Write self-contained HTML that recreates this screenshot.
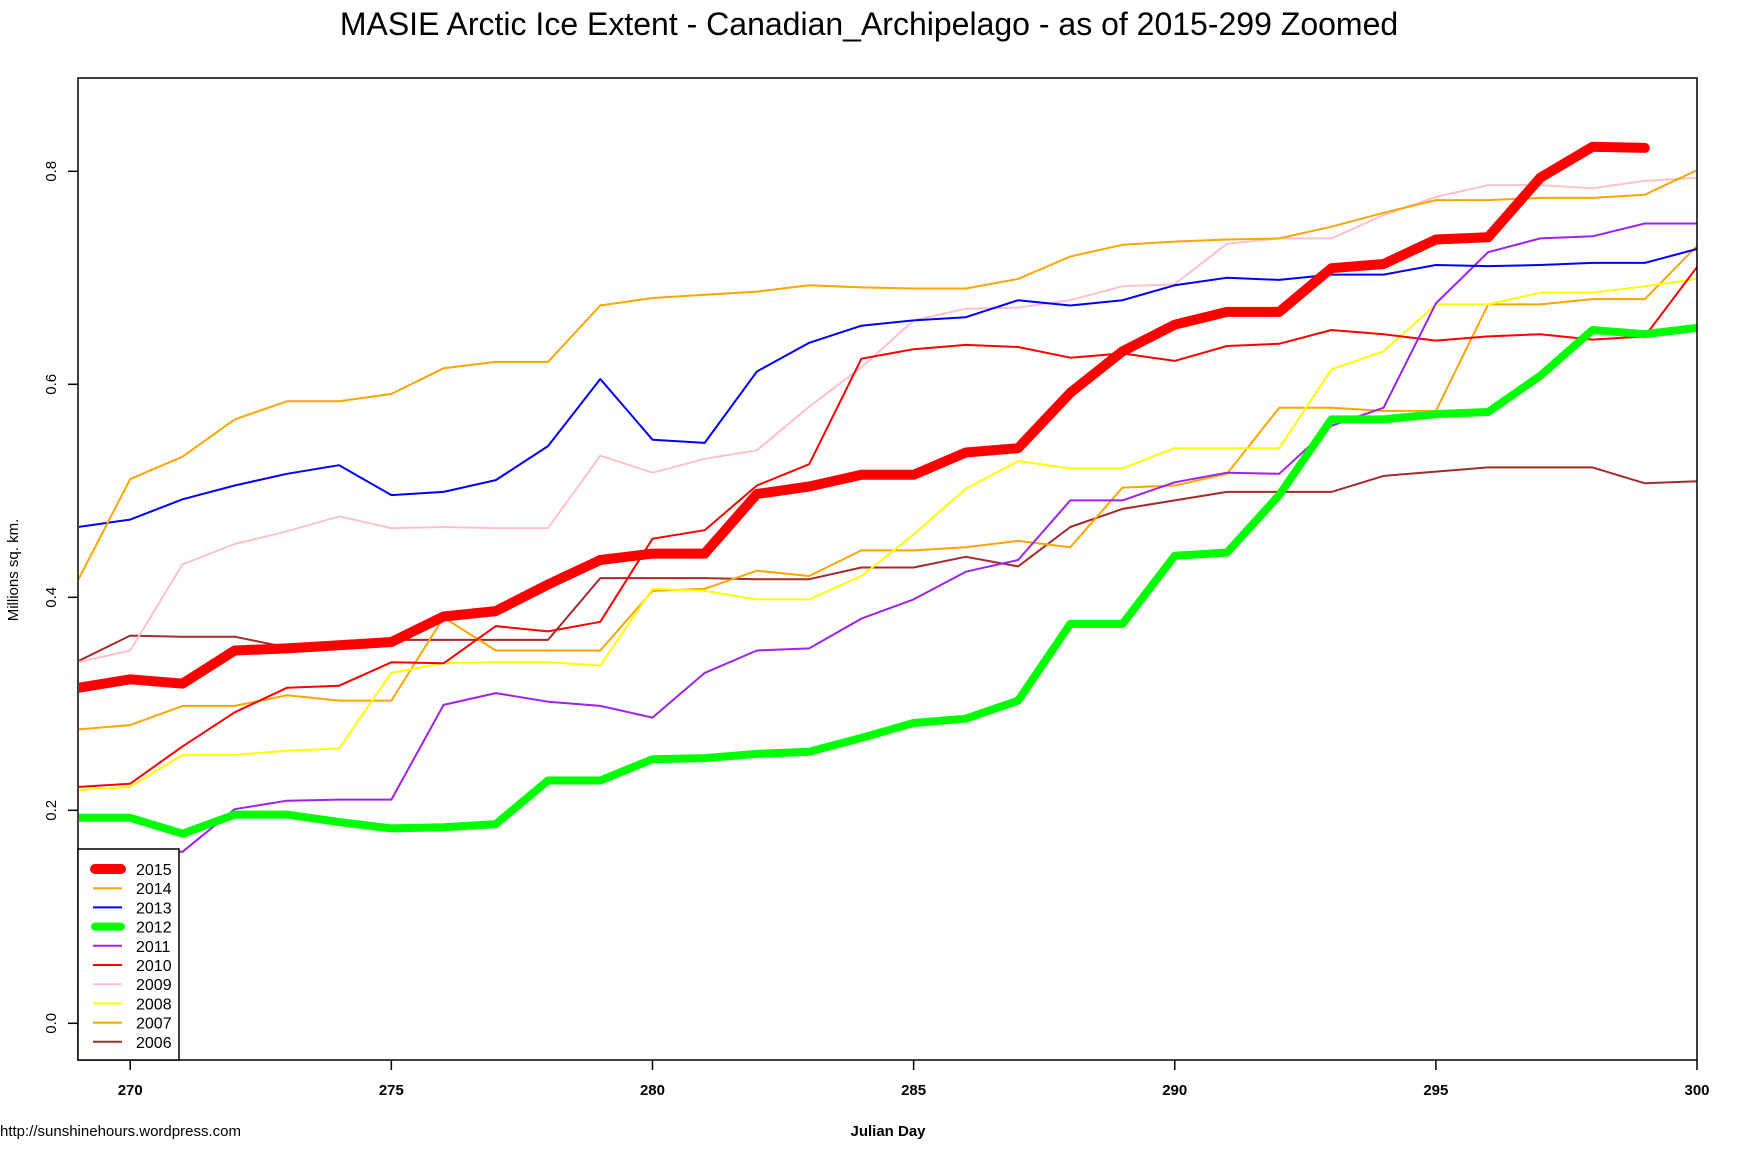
<!DOCTYPE html>
<html><head><meta charset="utf-8"><style>
html,body{margin:0;padding:0;background:#fff;}
svg{display:block;font-family:"Liberation Sans",Arial,sans-serif;}
</style></head><body>
<svg id="chart" width="1738" height="1158" xmlns="http://www.w3.org/2000/svg">
<defs><clipPath id="plotclip"><rect x="79" y="79" width="1618" height="981"/></clipPath></defs>
<rect width="1738" height="1158" fill="#fff"/>
<text x="869" y="35" text-anchor="middle" font-size="32">MASIE Arctic Ice Extent - Canadian_Archipelago - as of 2015-299 Zoomed</text>
<g id="series" clip-path="url(#plotclip)"></g>
<rect x="78" y="78" width="1619" height="982" fill="none" stroke="#000" stroke-width="1.5"/>
<g id="xaxis"></g>
<g id="yaxis"></g>
<text x="888" y="1136" text-anchor="middle" font-size="15" font-weight="bold">Julian Day</text>
<text transform="translate(18,570) rotate(-90)" text-anchor="middle" font-size="15">Millions sq. km.</text>
<text x="0" y="1136" font-size="15">http://sunshinehours.wordpress.com</text>
<g id="legend"></g>
</svg>
<script>
const days = [269,270,271,272,273,274,275,276,277,278,279,280,281,282,283,284,285,286,287,288,289,290,291,292,293,294,295,296,297,298,299,300];
const xTicks = [270,275,280,285,290,295,300];
const yTicks = [0.0,0.2,0.4,0.6,0.8];
const yTickLabels = ["0.0","0.2","0.4","0.6","0.8"];
const s2015 = [0.315,0.323,0.319,0.350,0.352,0.355,0.358,0.382,0.387,0.412,0.435,0.441,0.441,0.497,0.504,0.515,0.515,0.536,0.540,0.592,0.631,0.656,0.668,0.668,0.709,0.713,0.736,0.738,0.794,0.823,0.822];
const s2014 = [0.416,0.511,0.532,0.567,0.584,0.584,0.591,0.615,0.621,0.621,0.674,0.681,0.684,0.687,0.693,0.691,0.690,0.690,0.699,0.720,0.731,0.734,0.736,0.737,0.748,0.761,0.773,0.773,0.775,0.775,0.778,0.801];
const s2013 = [0.466,0.473,0.492,0.505,0.516,0.524,0.496,0.499,0.510,0.542,0.605,0.548,0.545,0.612,0.639,0.655,0.660,0.663,0.679,0.674,0.679,0.693,0.700,0.698,0.703,0.703,0.712,0.711,0.712,0.714,0.714,0.727];
const s2012 = [0.193,0.193,0.178,0.196,0.196,0.189,0.183,0.184,0.187,0.228,0.228,0.248,0.249,0.253,0.255,0.268,0.282,0.286,0.303,0.375,0.375,0.439,0.442,0.496,0.567,0.567,0.572,0.574,0.608,0.651,0.647,0.653];
const s2011 = [0.159,0.161,0.161,0.201,0.209,0.210,0.210,0.299,0.310,0.302,0.298,0.287,0.329,0.350,0.352,0.380,0.398,0.424,0.435,0.491,0.491,0.508,0.517,0.516,0.561,0.578,0.676,0.724,0.737,0.739,0.751,0.751];
const s2010 = [0.222,0.225,0.260,0.292,0.315,0.317,0.339,0.338,0.373,0.368,0.377,0.455,0.463,0.505,0.525,0.624,0.633,0.637,0.635,0.625,0.629,0.622,0.636,0.638,0.651,0.647,0.641,0.645,0.647,0.642,0.645,0.710];
const s2009 = [0.339,0.350,0.431,0.450,0.462,0.476,0.465,0.466,0.465,0.465,0.533,0.517,0.530,0.538,0.579,0.616,0.660,0.671,0.672,0.679,0.692,0.694,0.732,0.737,0.737,0.759,0.776,0.787,0.787,0.784,0.791,0.794];
const s2008 = [0.219,0.222,0.252,0.252,0.256,0.258,0.329,0.338,0.339,0.339,0.336,0.408,0.406,0.398,0.398,0.420,0.459,0.502,0.528,0.521,0.521,0.540,0.540,0.540,0.614,0.631,0.675,0.675,0.686,0.686,0.692,0.699];
const s2007 = [0.276,0.280,0.298,0.298,0.308,0.303,0.303,0.381,0.350,0.350,0.350,0.406,0.408,0.425,0.420,0.444,0.444,0.447,0.453,0.447,0.503,0.505,0.516,0.578,0.578,0.575,0.575,0.675,0.675,0.680,0.680,0.730];
const s2006 = [0.340,0.364,0.363,0.363,0.353,0.353,0.360,0.360,0.360,0.360,0.418,0.418,0.418,0.417,0.417,0.428,0.428,0.438,0.429,0.466,0.483,0.491,0.499,0.499,0.499,0.514,0.518,0.522,0.522,0.522,0.507,0.509];
const years = ["2015","2014","2013","2012","2011","2010","2009","2008","2007","2006"];
const seriesList = [s2015,s2014,s2013,s2012,s2011,s2010,s2009,s2008,s2007,s2006];
const colors = ["#FF0000","#FFA500","#0000FF","#00FF00","#A020F0","#FF0000","#FFC0CB","#FFFF00","#FFA500","#A52A2A"];
const widths = [10,2,2,8,2,2,2,2,2,2];

const NS = "http://www.w3.org/2000/svg";
function xs(d){ return 78 + (d-269)*(1619/31); }
function ys(v){ return 1023.3 - v*1065; }

const sg = document.getElementById('series');
for (let i = seriesList.length-1; i >= 0; i--) {
  const vals = seriesList[i];
  const pts = vals.map((v,j)=> xs(days[j]).toFixed(1)+","+ys(v).toFixed(1)).join(" ");
  const pl = document.createElementNS(NS,'polyline');
  pl.setAttribute('points', pts);
  pl.setAttribute('fill','none');
  pl.setAttribute('stroke', colors[i]);
  pl.setAttribute('stroke-width', widths[i]);
  pl.setAttribute('stroke-linejoin','round');
  pl.setAttribute('stroke-linecap', widths[i]>5 ? 'round' : 'butt');
  
  
  sg.appendChild(pl);
}

const xg = document.getElementById('xaxis');
xTicks.forEach(t=>{
  const x = xs(t);
  const ln = document.createElementNS(NS,'line');
  ln.setAttribute('x1',x); ln.setAttribute('x2',x);
  ln.setAttribute('y1',1060); ln.setAttribute('y2',1070);
  ln.setAttribute('stroke','#000'); ln.setAttribute('stroke-width','1.5');
  
  
  xg.appendChild(ln);
  const tx = document.createElementNS(NS,'text');
  tx.setAttribute('x',x); tx.setAttribute('y',1095);
  tx.setAttribute('text-anchor','middle'); tx.setAttribute('font-size','15'); tx.setAttribute('font-weight','bold');
  tx.textContent = t;
  
  
  xg.appendChild(tx);
});

const yg = document.getElementById('yaxis');
yTicks.forEach((t,i)=>{
  const y = ys(t);
  const ln = document.createElementNS(NS,'line');
  ln.setAttribute('x1',68); ln.setAttribute('x2',78);
  ln.setAttribute('y1',y); ln.setAttribute('y2',y);
  ln.setAttribute('stroke','#000'); ln.setAttribute('stroke-width','1.5');
  
  
  yg.appendChild(ln);
  const tx = document.createElementNS(NS,'text');
  tx.setAttribute('transform','translate(56,'+y+') rotate(-90)');
  tx.setAttribute('text-anchor','middle'); tx.setAttribute('font-size','15');
  tx.textContent = yTickLabels[i];
  
  
  yg.appendChild(tx);
});

const lg = document.getElementById('legend');
const box = document.createElementNS(NS,'rect');
box.setAttribute('x',78); box.setAttribute('y',849); box.setAttribute('width',101); box.setAttribute('height',211);
box.setAttribute('fill','#fff'); box.setAttribute('stroke','#000'); box.setAttribute('stroke-width','1.5');


lg.appendChild(box);
years.forEach((yr,i)=>{
  const y = 869 + i*19.2;
  const ln = document.createElementNS(NS,'line');
  ln.setAttribute('x1',widths[i]>5?95:93); ln.setAttribute('x2',widths[i]>5?121:122);
  ln.setAttribute('y1',y); ln.setAttribute('y2',y);
  ln.setAttribute('stroke',colors[i]); ln.setAttribute('stroke-width',widths[i]);
  ln.setAttribute('stroke-linecap', widths[i]>5?'round':'butt');
  
  
  lg.appendChild(ln);
  const tx = document.createElementNS(NS,'text');
  tx.setAttribute('x',136); tx.setAttribute('y',y+6);
  tx.setAttribute('font-size','16');
  tx.textContent = yr;
  
  
  lg.appendChild(tx);
});
</script>
</body></html>
